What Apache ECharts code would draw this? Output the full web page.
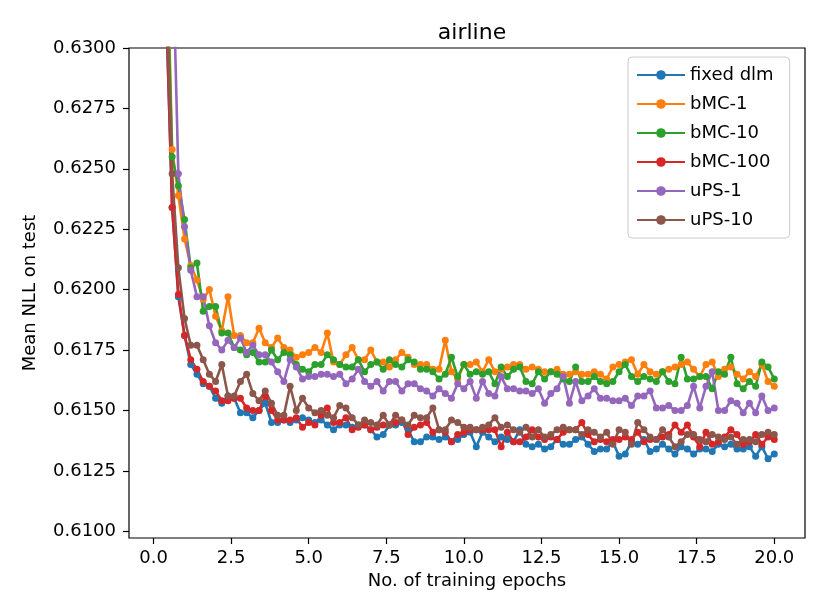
<!DOCTYPE html>
<html>
<head>
<meta charset="utf-8">
<script src="https://cdn.jsdelivr.net/npm/echarts@6/dist/echarts.min.js"></script>
<style>
  html, body { margin: 0; padding: 0; background: #fff; }
  #main { width: 822px; height: 616px; }
</style>
</head>
<body>
<div id="main"></div>
<script>
// epochs, one point every 0.2
var epochs = [
  0.2, 0.4, 0.6, 0.8, 1.0, 1.2, 1.4, 1.6, 1.8, 2.0,
  2.2, 2.4, 2.6, 2.8, 3.0, 3.2, 3.4, 3.6, 3.8, 4.0,
  4.2, 4.4, 4.6, 4.8, 5.0, 5.2, 5.4, 5.6, 5.8, 6.0,
  6.2, 6.4, 6.6, 6.8, 7.0, 7.2, 7.4, 7.6, 7.8, 8.0,
  8.2, 8.4, 8.6, 8.8, 9.0, 9.2, 9.4, 9.6, 9.8, 10.0,
  10.2, 10.4, 10.6, 10.8, 11.0, 11.2, 11.4, 11.6, 11.8, 12.0,
  12.2, 12.4, 12.6, 12.8, 13.0, 13.2, 13.4, 13.6, 13.8, 14.0,
  14.2, 14.4, 14.6, 14.8, 15.0, 15.2, 15.4, 15.6, 15.8, 16.0,
  16.2, 16.4, 16.6, 16.8, 17.0, 17.2, 17.4, 17.6, 17.8, 18.0,
  18.2, 18.4, 18.6, 18.8, 19.0, 19.2, 19.4, 19.6, 19.8, 20.0
];

var fixedDlm = [
  0.6600, 0.6320, 0.6234, 0.6197, 0.6181, 0.6169, 0.6165, 0.6161, 0.6160, 0.6155,
  0.6153, 0.6156, 0.6155, 0.6149, 0.6149, 0.6147, 0.6150, 0.6153, 0.6145, 0.6145,
  0.6146, 0.6145, 0.6146, 0.6147, 0.6146, 0.6145, 0.6146, 0.6144, 0.6142, 0.6144,
  0.6144, 0.6143, 0.6144, 0.6144, 0.6142, 0.6139, 0.6140, 0.6144, 0.6144, 0.6145,
  0.6142, 0.6137, 0.6137, 0.6139, 0.6139, 0.6138, 0.6139, 0.6137, 0.6138, 0.6140,
  0.6141, 0.6135, 0.6141, 0.6139, 0.6137, 0.6139, 0.6138, 0.6137, 0.6142, 0.6136,
  0.6135, 0.6136, 0.6134, 0.6135, 0.6138, 0.6136, 0.6136, 0.6138, 0.6139, 0.6136,
  0.6133, 0.6134, 0.6134, 0.6137, 0.6131, 0.6132, 0.6137, 0.6136, 0.6138, 0.6133,
  0.6134, 0.6136, 0.6134, 0.6132, 0.6135, 0.6134, 0.6132, 0.6134, 0.6134, 0.6133,
  0.6136, 0.6135, 0.6136, 0.6134, 0.6134, 0.6135, 0.6131, 0.6135, 0.6130, 0.6132
];

var bmc1 = [
  0.6700, 0.6360, 0.6258, 0.6239, 0.6221, 0.6210, 0.6204, 0.6196, 0.6200, 0.6189,
  0.6183, 0.6197, 0.6181, 0.6181, 0.6178, 0.6178, 0.6184, 0.6178, 0.6176, 0.6180,
  0.6176, 0.6175, 0.6172, 0.6173, 0.6174, 0.6176, 0.6174, 0.6182, 0.6170, 0.6169,
  0.6173, 0.6176, 0.6171, 0.6171, 0.6175, 0.6170, 0.6170, 0.6168, 0.6171, 0.6174,
  0.6172, 0.6169, 0.6169, 0.6169, 0.6167, 0.6167, 0.6179, 0.6166, 0.6163, 0.6169,
  0.6169, 0.6170, 0.6166, 0.6171, 0.6166, 0.6167, 0.6168, 0.6169, 0.6169, 0.6167,
  0.6168, 0.6167, 0.6166, 0.6166, 0.6167, 0.6165, 0.6165, 0.6166, 0.6165, 0.6165,
  0.6166, 0.6165, 0.6163, 0.6168, 0.6169, 0.6170, 0.6171, 0.6165, 0.6169, 0.6166,
  0.6165, 0.6166, 0.6167, 0.6168, 0.6169, 0.6170, 0.6167, 0.6164, 0.6169, 0.6170,
  0.6164, 0.6167, 0.6168, 0.6165, 0.6163, 0.6166, 0.6164, 0.6169, 0.6162, 0.6160
];

var bmc10 = [
  0.6680, 0.6350, 0.6255, 0.6243, 0.6229, 0.6209, 0.6211, 0.6191, 0.6193, 0.6193,
  0.6182, 0.6182, 0.6176, 0.6175, 0.6173, 0.6174, 0.6170, 0.6170, 0.6175, 0.6171,
  0.6174, 0.6173, 0.6169, 0.6167, 0.6166, 0.6169, 0.6169, 0.6173, 0.6171, 0.6169,
  0.6168, 0.6168, 0.6171, 0.6166, 0.6169, 0.6170, 0.6167, 0.6171, 0.6169, 0.6168,
  0.6171, 0.6170, 0.6167, 0.6167, 0.6166, 0.6163, 0.6165, 0.6172, 0.6164, 0.6169,
  0.6165, 0.6166, 0.6165, 0.6166, 0.6161, 0.6168, 0.6164, 0.6167, 0.6168, 0.6162,
  0.6161, 0.6166, 0.6163, 0.6166, 0.6165, 0.6163, 0.6162, 0.6168, 0.6162, 0.6162,
  0.6164, 0.6162, 0.6161, 0.6162, 0.6166, 0.6169, 0.6164, 0.6162, 0.6164, 0.6163,
  0.6162, 0.6166, 0.6162, 0.6161, 0.6172, 0.6163, 0.6163, 0.6164, 0.6164, 0.6159,
  0.6166, 0.6165, 0.6172, 0.6161, 0.6159, 0.6162, 0.6160, 0.6170, 0.6168, 0.6163
];

var bmc100 = [
  0.6600, 0.6320, 0.6234, 0.6198, 0.6181, 0.6171, 0.6167, 0.6162, 0.6160, 0.6158,
  0.6154, 0.6154, 0.6155, 0.6155, 0.6151, 0.6150, 0.6150, 0.6156, 0.6150, 0.6146,
  0.6146, 0.6146, 0.6147, 0.6143, 0.6145, 0.6144, 0.6148, 0.6151, 0.6145, 0.6145,
  0.6147, 0.6142, 0.6143, 0.6144, 0.6142, 0.6143, 0.6144, 0.6144, 0.6145, 0.6146,
  0.6140, 0.6143, 0.6144, 0.6145, 0.6141, 0.6142, 0.6141, 0.6137, 0.6140, 0.6141,
  0.6142, 0.6142, 0.6142, 0.6142, 0.6142, 0.6135, 0.6141, 0.6137, 0.6137, 0.6139,
  0.6142, 0.6139, 0.6138, 0.6139, 0.6138, 0.6141, 0.6142, 0.6142, 0.6145, 0.6140,
  0.6137, 0.6138, 0.6137, 0.6138, 0.6138, 0.6139, 0.6138, 0.6141, 0.6137, 0.6138,
  0.6138, 0.6139, 0.6140, 0.6144, 0.6141, 0.6144, 0.6139, 0.6135, 0.6141, 0.6136,
  0.6137, 0.6139, 0.6142, 0.6140, 0.6136, 0.6137, 0.6140, 0.6136, 0.6139, 0.6138
];

var ups1 = [
  0.6800, 0.6500, 0.6350, 0.6248, 0.6226, 0.6208, 0.6197, 0.6197, 0.6185, 0.6178,
  0.6175, 0.6179, 0.6176, 0.6180, 0.6174, 0.6177, 0.6173, 0.6173, 0.6170, 0.6166,
  0.6162, 0.6171, 0.6168, 0.6163, 0.6164, 0.6164, 0.6165, 0.6165, 0.6164, 0.6165,
  0.6161, 0.6163, 0.6167, 0.6162, 0.6160, 0.6162, 0.6158, 0.6162, 0.6162, 0.6158,
  0.6161, 0.6161, 0.6159, 0.6158, 0.6156, 0.6159, 0.6157, 0.6155, 0.6161, 0.6159,
  0.6162, 0.6155, 0.6162, 0.6157, 0.6156, 0.6164, 0.6159, 0.6159, 0.6158, 0.6158,
  0.6157, 0.6159, 0.6153, 0.6157, 0.6159, 0.6164, 0.6153, 0.6162, 0.6154, 0.6156,
  0.6159, 0.6155, 0.6155, 0.6154, 0.6154, 0.6155, 0.6152, 0.6156, 0.6156, 0.6158,
  0.6151, 0.6151, 0.6152, 0.6150, 0.6150, 0.6152, 0.6160, 0.6151, 0.6160, 0.6166,
  0.6150, 0.6150, 0.6154, 0.6153, 0.6149, 0.6153, 0.6149, 0.6156, 0.6150, 0.6151
];

var ups10 = [
  0.6650, 0.6330, 0.6248, 0.6209, 0.6188, 0.6177, 0.6177, 0.6171, 0.6165, 0.6162,
  0.6169, 0.6156, 0.6156, 0.6162, 0.6165, 0.6157, 0.6154, 0.6158, 0.6153, 0.6148,
  0.6148, 0.6160, 0.6150, 0.6155, 0.6151, 0.6149, 0.6150, 0.6148, 0.6147, 0.6152,
  0.6151, 0.6147, 0.6144, 0.6146, 0.6145, 0.6144, 0.6148, 0.6144, 0.6148, 0.6146,
  0.6144, 0.6148, 0.6147, 0.6147, 0.6151, 0.6142, 0.6142, 0.6146, 0.6145, 0.6143,
  0.6143, 0.6142, 0.6143, 0.6144, 0.6147, 0.6143, 0.6144, 0.6142, 0.6141, 0.6143,
  0.6139, 0.6142, 0.6139, 0.6140, 0.6142, 0.6143, 0.6142, 0.6142, 0.6140, 0.6142,
  0.6141, 0.6139, 0.6141, 0.6136, 0.6142, 0.6141, 0.6136, 0.6145, 0.6142, 0.6139,
  0.6138, 0.6142, 0.6139, 0.6135, 0.6137, 0.6140, 0.6140, 0.6138, 0.6137, 0.6140,
  0.6139, 0.6138, 0.6139, 0.6136, 0.6138, 0.6138, 0.6137, 0.6140, 0.6141, 0.6140
];

var xTicks = [0, 2.5, 5, 7.5, 10, 12.5, 15, 17.5, 20];
var yTicks = [0.6100, 0.6125, 0.6150, 0.6175, 0.6200, 0.6225, 0.6250, 0.6275, 0.6300];

var seriesNames = ['fixed dlm', 'bMC-1', 'bMC-10', 'bMC-100', 'uPS-1', 'uPS-10'];
var seriesValues = [fixedDlm, bmc1, bmc10, bmc100, ups1, ups10];
var colors = ['#1f77b4', '#ff7f0e', '#2ca02c', '#d62728', '#9467bd', '#8c564b'];

var font = 'DejaVu Sans';

var chart = echarts.init(document.getElementById('main'), null, { renderer: 'canvas' });

var series = seriesNames.map(function (name, i) {
  return {
    name: name,
    type: 'line',
    data: epochs.map(function (x, j) { return [x, seriesValues[i][j]]; }),
    symbol: 'circle',
    symbolSize: 7,
    showSymbol: true,
    clip: true,
    lineStyle: { width: 2.6, color: colors[i] },
    itemStyle: { color: colors[i] },
    emphasis: { disabled: true }
  };
});

var option = {
  animation: false,
  color: colors,
  textStyle: { fontFamily: font },
  title: {
    text: 'airline',
    left: 467,
    top: 17,
    textAlign: 'center',
    textStyle: { fontFamily: font, fontSize: 22, fontWeight: 'normal', color: '#000' }
  },
  legend: {
    orient: 'vertical',
    left: 628,
    top: 57,
    padding: [8, 16, 8, 8],
    itemGap: 9,
    itemWidth: 48,
    itemHeight: 12,
    backgroundColor: '#fff',
    borderColor: '#cccccc',
    borderWidth: 1,
    borderRadius: 4,
    textStyle: { fontFamily: font, fontSize: 18, color: '#000', lineHeight: 20 },
    data: seriesNames
  },
  grid: {
    left: 129,
    right: 17,
    top: 48,
    bottom: 78,
    containLabel: false,
    outerBoundsMode: 'none',
    show: true,
    borderColor: '#000',
    borderWidth: 1.2,
    backgroundColor: 'transparent'
  },
  xAxis: {
    type: 'value',
    min: -0.79,
    max: 20.99,
    name: 'No. of training epochs',
    nameLocation: 'middle',
    nameGap: 33,
    nameTextStyle: { fontFamily: font, fontSize: 18, color: '#000' },
    axisLine: { show: false, onZero: false },
    axisTick: { show: true, length: 6, customValues: xTicks, lineStyle: { color: '#000', width: 1.2 } },
    axisLabel: {
      customValues: xTicks,
      margin: 11,
      fontFamily: font,
      fontSize: 18,
      color: '#000',
      formatter: function (v) { return v.toFixed(1); }
    },
    splitLine: { show: false }
  },
  yAxis: {
    type: 'value',
    min: 0.60972,
    max: 0.63,
    name: 'Mean NLL on test',
    nameLocation: 'middle',
    nameGap: 90,
    nameTextStyle: { fontFamily: font, fontSize: 18, color: '#000' },
    axisLine: { show: false, onZero: false },
    axisTick: { show: true, length: 6, customValues: yTicks, lineStyle: { color: '#000', width: 1.2 } },
    axisLabel: {
      customValues: yTicks,
      margin: 13,
      fontFamily: font,
      fontSize: 18,
      color: '#000',
      formatter: function (v) { return v.toFixed(4); }
    },
    splitLine: { show: false }
  },
  series: series
};

chart.setOption(option);
</script>
</body>
</html>
